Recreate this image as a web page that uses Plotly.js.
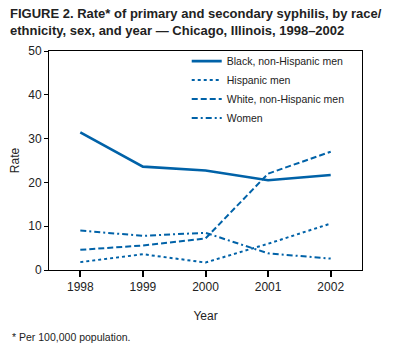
<!DOCTYPE html>
<html><head><meta charset="utf-8">
<script src="https://cdn.plot.ly/plotly-3.0.1.min.js"></script>
<style>body{margin:0;padding:0;background:#fff}#chart{width:397px;height:348px}</style>
</head><body><div id="chart"></div>
<script>
const years = [1998, 1999, 2000, 2001, 2002];
const blackMen = [31.4, 23.6, 22.7, 20.5, 21.7];
const hispanicMen = [1.8, 3.6, 1.7, 6.0, 10.6];
const whiteMen = [4.6, 5.6, 7.2, 22.0, 27.0];
const women = [9.0, 7.8, 8.5, 3.8, 2.6];
const seriesNames = ["Black, non-Hispanic men", "Hispanic men", "White, non-Hispanic men", "Women"];
const col = "#0062a8";
const F = "Liberation Sans, Arial, sans-serif";
const traces = [
  {x: years, y: blackMen, name: seriesNames[0], mode: "lines", line: {color: col, width: 2.6, dash: "solid"}},
  {x: years, y: hispanicMen, name: seriesNames[1], mode: "lines", line: {color: col, width: 2, dash: "dot"}},
  {x: years, y: whiteMen, name: seriesNames[2], mode: "lines", line: {color: col, width: 2, dash: "6px,3px"}},
  {x: years, y: women, name: seriesNames[3], mode: "lines", line: {color: col, width: 2, dash: "6px,3px,2px,3px"}}
];
const layout = {
  width: 397, height: 348,
  margin: {l: 49, r: 35, t: 51, b: 78},
  paper_bgcolor: "#fff", plot_bgcolor: "#fff",
  font: {family: F, size: 12, color: "#222"},
  showlegend: true,
  legend: {x: 0.44, y: 1.02, xanchor: "left", yanchor: "top", bgcolor: "rgba(0,0,0,0)",
    font: {family: F, size: 10.5, color: "#222"}, tracegroupgap: 0, itemwidth: 30},
  xaxis: {range: [1997.5, 2002.5], tickvals: years, ticktext: years.map(String),
    showgrid: false, zeroline: false, showline: true, linecolor: "#000", linewidth: 1, mirror: true,
    ticks: "outside", ticklen: 6, tickwidth: 2, tickcolor: "#000",
    tickfont: {family: F, size: 12, color: "#222"},
    title: {text: "Year", font: {family: F, size: 12, color: "#222"}, standoff: 18}},
  yaxis: {range: [0, 50], tickvals: [0, 10, 20, 30, 40, 50],
    showgrid: false, zeroline: false, showline: true, linecolor: "#000", linewidth: 1, mirror: true,
    ticks: "outside", ticklen: 4, tickwidth: 1, tickcolor: "#000",
    tickfont: {family: F, size: 12, color: "#222"},
    title: {text: "Rate", font: {family: F, size: 12, color: "#222"}, standoff: 6}},
  annotations: [
    {text: "<b>FIGURE 2. Rate* of primary and secondary syphilis, by race/<br>ethnicity, sex, and year — Chicago, Illinois, 1998–2002</b>",
     xref: "paper", yref: "paper", x: -0.13, y: 1.215, xanchor: "left", yanchor: "top", align: "left",
     showarrow: false, font: {family: F, size: 13, color: "#222"}},
    {text: "* Per 100,000 population.", xref: "paper", yref: "paper", x: -0.125, y: -0.27,
     xanchor: "left", yanchor: "top", align: "left", showarrow: false,
     font: {family: F, size: 10.5, color: "#222"}}
  ]
};
Plotly.newPlot("chart", traces, layout, {displayModeBar: false, staticPlot: true});
</script></body></html>
